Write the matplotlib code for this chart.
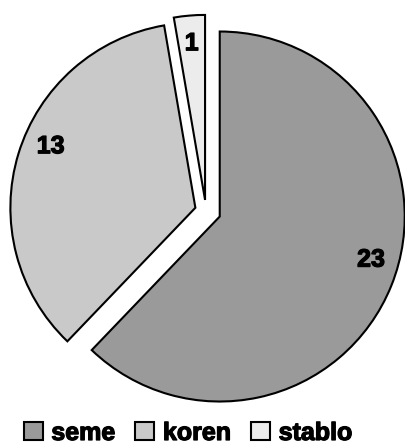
import numpy as np
import matplotlib.pyplot as plt
import matplotlib.patheffects as pe

labels = ['seme', 'koren', 'stablo']
values = [23, 13, 1]
colors = ['#9a9a9a', '#c9c9c9', '#ececec']
explode = [0.08, 0.06, 0.06]

plt.rcParams['font.family'] = ['Liberation Sans', 'DejaVu Sans']
heavy = [pe.withStroke(linewidth=0.9, foreground='black')]

fig = plt.figure(figsize=(4.06, 4.46), dpi=100)
ax = fig.add_axes([0, 0, 1, 1])

wedges, texts = ax.pie(values, colors=colors, explode=explode, startangle=90,
                       counterclock=False, labels=[str(v) for v in values],
                       labeldistance=0.85,
                       wedgeprops=dict(edgecolor='black', linewidth=1.5),
                       textprops=dict(fontsize=18, fontweight='bold', color='black'))

# nudge labels a bit toward the top, like the original
shift = [6, -6, 0]
for w, t, s in zip(wedges, texts, shift):
    ang = np.deg2rad((w.theta1 + w.theta2) / 2 + s)
    cx, cy = w.center
    t.set_position((cx + 0.85 * np.cos(ang), cy + 0.85 * np.sin(ang)))
    t.set_horizontalalignment('center')
    t.set_verticalalignment('center')
    t.set_path_effects(heavy)

ax.set_xlim(-206 / 185, 200 / 185)
ax.set_ylim(-235 / 185, 211 / 185)
ax.set_aspect('auto')
ax.axis('off')

leg = ax.legend(wedges, labels, loc='center', ncol=3, frameon=False,
                bbox_to_anchor=(188 / 406, 1 - 433 / 446), bbox_transform=fig.transFigure,
                prop=dict(size=18, weight='bold'), handlelength=0.75, handleheight=0.75,
                handletextpad=0.35, columnspacing=0.8)
for t in leg.get_texts():
    t.set_path_effects(heavy)
for h in leg.legend_handles:
    h.set_linewidth(1.5)

fig.savefig('out.png', dpi=100)
